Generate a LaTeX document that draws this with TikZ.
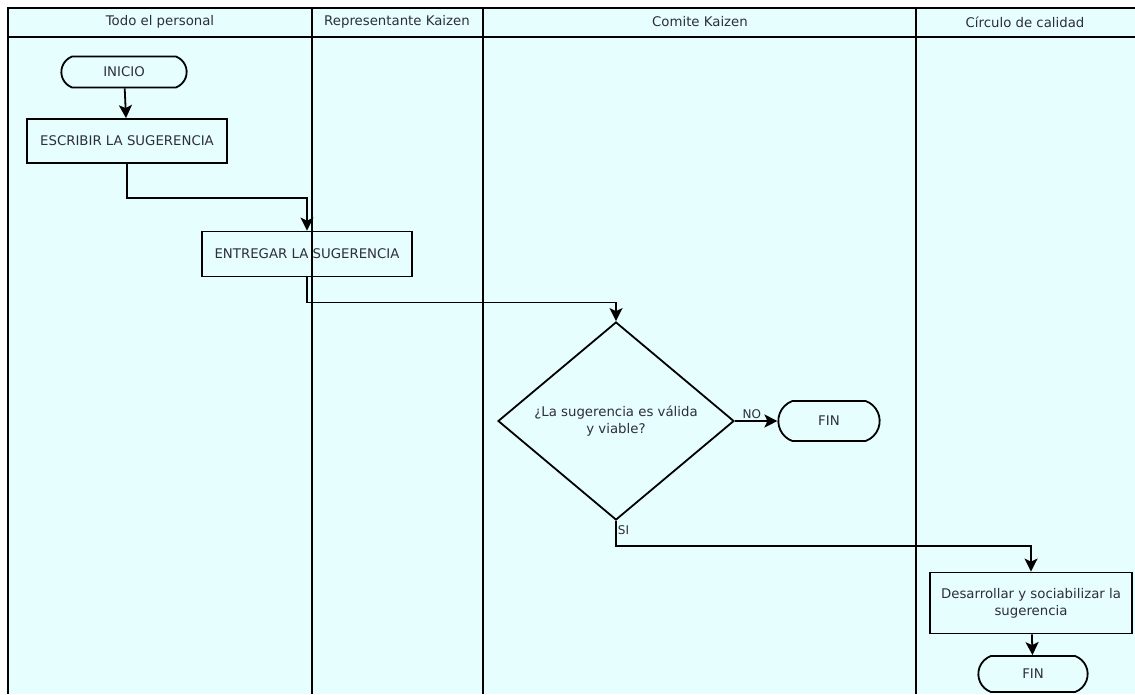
\documentclass[tikz,border=0pt]{standalone}
\usepackage{fontspec}
\setmainfont{DejaVu Sans}
\usetikzlibrary{shapes.geometric,shapes.misc,arrows.meta}
\definecolor{lanebg}{HTML}{E6FEFE}
\definecolor{txt}{HTML}{2E2E3A}
\begin{document}
\begin{tikzpicture}[x=1pt,y=-1pt,
  every node/.style={font=\fontsize{13.3}{17}\selectfont, text=txt},
  lane/.style={line width=1.8pt, black},
  proc/.style={draw, line width=1.8pt, rectangle, minimum width=#1, inner sep=2pt, align=center},
  term/.style={draw, line width=1.8pt, rounded rectangle, rounded rectangle arc length=140, minimum height=34, minimum width=#1},
  dec/.style={draw, line width=1.8pt, diamond, inner sep=0pt, minimum width=236, minimum height=198, align=center},
  arr/.style={line width=1.8pt, -{Stealth[length=13pt,width=13pt,inset=3pt]}},
  lbl/.style={font=\fontsize{12}{14}\selectfont, inner sep=1pt}]
\useasboundingbox (0,0) rectangle (1135,694);
\fill[white] (0,0) rectangle (1135,694);
\fill[lanebg] (8,8) rectangle (1135,694);
% swimlane frame
\draw[lane] (1135,8) -- (8,8) -- (8,694);
\draw[lane] (8,37) -- (1135,37);
\foreach \x in {312,483,916} \draw[lane] (\x,8) -- (\x,694);
% lane titles
\node (h1) at (160,22) {Todo el personal};
\node (h2) at (397,22) {Representante Kaizen};
\node (h3) at (700,22) {Comite Kaizen};
\node (h4) at (1025,22) {Círculo de calidad};
% flow
\node[term=132, minimum height=31] (inicio) at (124,72) {INICIO};
\node[proc=200, minimum height=44] (escribir) at (127,141) {ESCRIBIR LA SUGERENCIA};
\node[proc=210, minimum height=45] (entregar) at (307,254) {ENTREGAR LA SUGERENCIA};
\node[dec] (valida) at (616,421) {¿La sugerencia es válida\\y viable?};
\node[term=108, minimum height=40] (fin1) at (829,421) {FIN};
\node[proc=202, minimum height=61] (desarrollar) at (1031,603) {Desarrollar y sociabilizar la\\sugerencia};
\node[term=116, minimum height=36] (fin2) at (1033,674) {FIN};
% connectors
\draw[arr] (inicio) -- (escribir);
\draw[arr] (escribir.south) -- ++(0,34) -| (entregar.north);
\draw[arr] (entregar.south) -- ++(0,25) -| (valida.north);
\draw[arr] (valida.east) -- node[lbl, pos=0.4, above] {NO} (fin1.west);
\draw[arr] (valida.south) -- node[lbl, pos=0.35, right] {SI} ++(0,25) -| (desarrollar.north);
\draw[arr] (desarrollar) -- (fin2);
\end{tikzpicture}
\end{document}
